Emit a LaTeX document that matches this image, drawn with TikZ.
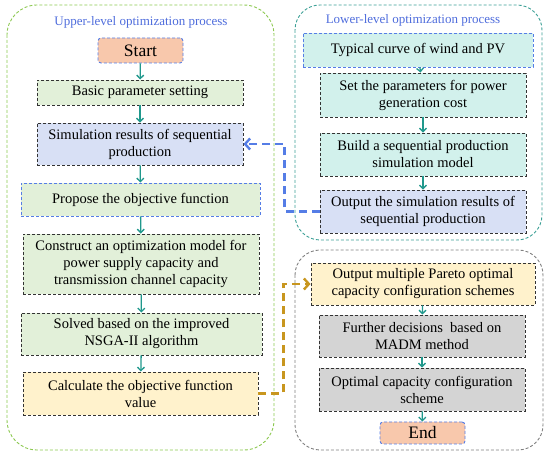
\documentclass[tikz,border=0pt]{standalone}
\usepackage{fontspec}
\setmainfont{Liberation Serif}
\usepackage{tikz}
\usetikzlibrary{arrows.meta,positioning}
\definecolor{grnfill}{RGB}{226,240,217}
\definecolor{lavfill}{RGB}{216,224,245}
\definecolor{tealfill}{RGB}{210,241,236}
\definecolor{yelfill}{RGB}{255,242,204}
\definecolor{grayfill}{RGB}{212,212,212}
\definecolor{orgfill}{RGB}{248,200,172}
\definecolor{bluedash}{RGB}{85,125,230}
\definecolor{hdrblue}{RGB}{78,108,220}
\definecolor{arrteal}{RGB}{32,152,140}
\definecolor{frmgreen}{RGB}{140,200,80}
\definecolor{frmteal}{RGB}{60,160,150}
\definecolor{gold}{RGB}{200,150,30}

\begin{document}
\begin{tikzpicture}[x=1pt,y=-1pt,
  box/.style={draw=black!80,dash pattern=on 3pt off 2pt,line width=0.9pt,align=center,inner sep=2pt,
    font=\fontsize{14.5}{17}\selectfont},
  greenbox/.style={box,fill=grnfill},
  lavbox/.style={box,fill=lavfill},
  tealbox/.style={box,fill=tealfill},
  yelbox/.style={box,fill=yelfill},
  graybox/.style={box,fill=grayfill},
  term/.style={box,fill=orgfill,draw=bluedash,rounded corners=3pt,font=\fontsize{17.5}{20}\selectfont},
  frame/.style={dash pattern=on 3pt off 2pt,line width=0.9pt},
  title/.style={text=hdrblue,font=\fontsize{13}{15}\selectfont},
  arr/.style={-{Straight Barb[length=3.5pt,width=7pt]},line width=1.3pt,arrteal},
  fback/.style={-{Straight Barb[length=5pt,width=11pt]},line width=2.4pt,dash pattern=on 8pt off 5pt}]
\useasboundingbox (0,0) rectangle (550,457);
% frames
\draw[frame,draw=frmgreen,rounded corners=30pt] (7,5) rectangle (274,450);
\draw[frame,draw=frmteal,rounded corners=25pt] (295,5) rectangle (542,240);
\draw[frame,draw=black!50,rounded corners=25pt] (295,250) rectangle (543,450);
\node[title] (uptitle) at (141,22) {Upper-level optimization process};
\node[title] (lowtitle) at (413,20) {Lower-level optimization process};
% upper level
\node[term,minimum width=85pt,minimum height=25pt] (start) at (140.5,50.5) {Start};
\node[greenbox,minimum width=206pt,minimum height=25pt] (basic) at (140,92.5) {Basic parameter setting};
\node[lavbox,minimum width=206pt,minimum height=42pt] (simres) at (140,144) {Simulation results of sequential\\production};
\node[greenbox,draw=bluedash,minimum width=239pt,minimum height=33pt] (propose) at (140.5,199.5) {Propose the objective function};
\node[greenbox,minimum width=236pt,minimum height=60pt] (construct) at (141,264) {Construct an optimization model for\\power supply capacity and\\transmission channel capacity};
\node[greenbox,minimum width=241pt,minimum height=42pt] (solved) at (141.5,334) {Solved based on the improved\\NSGA-II algorithm};
\node[yelbox,minimum width=235pt,minimum height=43pt] (calc) at (140.5,393.5) {Calculate the objective function\\value};
% lower level
\node[tealbox,draw=bluedash,minimum width=230pt,minimum height=34pt] (typical) at (418,50) {Typical curve of wind and PV};
\node[tealbox,minimum width=206pt,minimum height=44pt] (setparam) at (423,95) {Set the parameters for power\\generation cost};
\node[tealbox,minimum width=206pt,minimum height=43pt] (buildsim) at (423,154.5) {Build a sequential production\\simulation model};
\node[lavbox,minimum width=206pt,minimum height=43pt] (outsim) at (423,211.5) {Output the simulation results of\\sequential production};
% decision
\node[yelbox,minimum width=224pt,minimum height=42pt] (pareto) at (423,284) {Output multiple Pareto optimal\\capacity configuration schemes};
\node[graybox,minimum width=206pt,minimum height=42pt] (further) at (422,336) {Further decisions~ based on\\MADM method};
\node[graybox,minimum width=206pt,minimum height=43pt] (optimal) at (422,389.5) {Optimal capacity configuration\\scheme};
\node[term,minimum width=85pt,minimum height=22pt] (end) at (422.5,433) {End};
\foreach \a/\b in {start/basic,basic/simres,simres/propose,propose/construct,construct/solved,solved/calc,
  typical/setparam,setparam/buildsim,buildsim/outsim,pareto/further,further/optimal,optimal/end}
  \draw[arr] (\a)--(\b);
\draw[fback,bluedash] (outsim.west) -- ++(-35,0) |- (simres.east);
\draw[fback,gold] (calc.east) -- ++(25,0) |- (pareto.west);
\end{tikzpicture}
\end{document}
